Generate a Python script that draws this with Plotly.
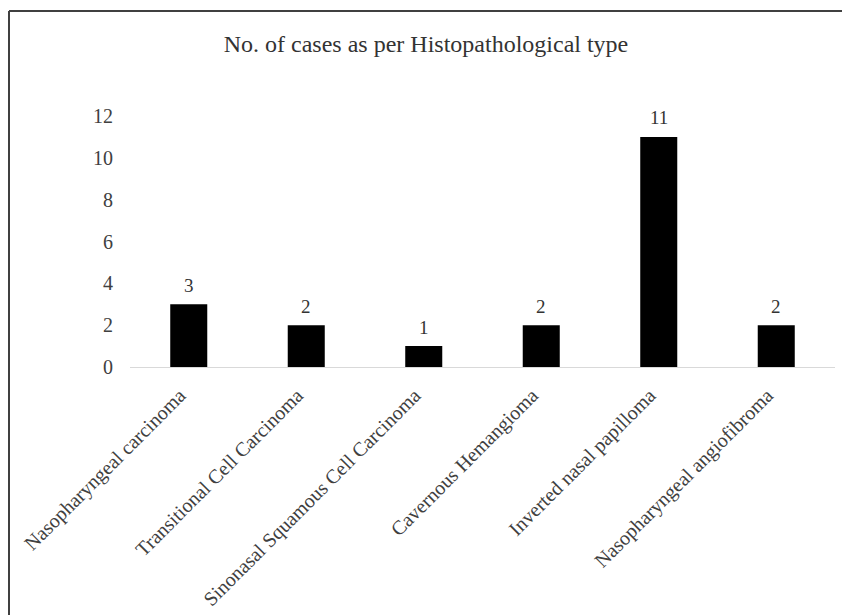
import plotly.graph_objects as go

categories = [
    "Nasopharyngeal carcinoma",
    "Transitional Cell Carcinoma",
    "Sinonasal Squamous Cell Carcinoma",
    "Cavernous Hemangioma",
    "Inverted nasal papilloma",
    "Nasopharyngeal angiofibroma",
]
cases = [3, 2, 1, 2, 11, 2]
y_ticks = [0, 2, 4, 6, 8, 10, 12]

FONT = "Liberation Serif, Times New Roman, serif"

# page body has an 8px margin, so the figure is sized to fit the window
W, H = 842, 607
L, R, T, B = 122, 15, 108, 248
PW, PH = W - L - R, H - T - B

fig = go.Figure()
fig.add_trace(go.Bar(
    x=categories, y=cases,
    marker=dict(color="black", line=dict(width=0)),
    width=0.315,
    cliponaxis=False,
))

# value labels above bars
for c, v in zip(categories, cases):
    fig.add_annotation(x=c, y=v, text=str(v), showarrow=False,
                       yanchor="middle", yshift=19,
                       font=dict(family=FONT, size=19, color="#333333"))

fig.update_layout(
    width=W, height=H,
    margin=dict(l=L, r=R, t=T, b=B),
    paper_bgcolor="white", plot_bgcolor="white",
    showlegend=False,
    title=dict(text="No. of cases as per Histopathological type",
               x=(426 - 8 - L) / PW, xref="paper", xanchor="center",
               y=1 - 36 / H, yref="container", yanchor="middle",
               font=dict(family=FONT, size=24, color="#333333")),
    font=dict(family=FONT),
)

fig.update_xaxes(
    showline=True, linecolor="#d9d9d9", linewidth=1,
    showgrid=False, ticks="", tickangle=-45,
    tickfont=dict(family=FONT, size=20, color="#404040"),
    ticklabelstandoff=8, ticklabelshift=-9,
    automargin=False,
)
fig.update_yaxes(
    range=[0, 12], tickvals=y_ticks,
    showline=False, showgrid=False, zeroline=False, ticks="",
    tickfont=dict(family=FONT, size=20, color="#404040"),
    ticklabelstandoff=16,
    automargin=False,
)

# frame lines (left and top) as in the reference image
xl = (1 - L) / PW
yt = (H - 3 - B) / PH
fig.add_shape(type="line", xref="paper", yref="paper",
              x0=xl, x1=xl, y0=-B / PH, y1=yt,
              line=dict(color="#404040", width=2))
fig.add_shape(type="line", xref="paper", yref="paper",
              x0=xl, x1=(PW + R) / PW, y0=yt, y1=yt,
              line=dict(color="#404040", width=2))

fig.write_html("out.html")
